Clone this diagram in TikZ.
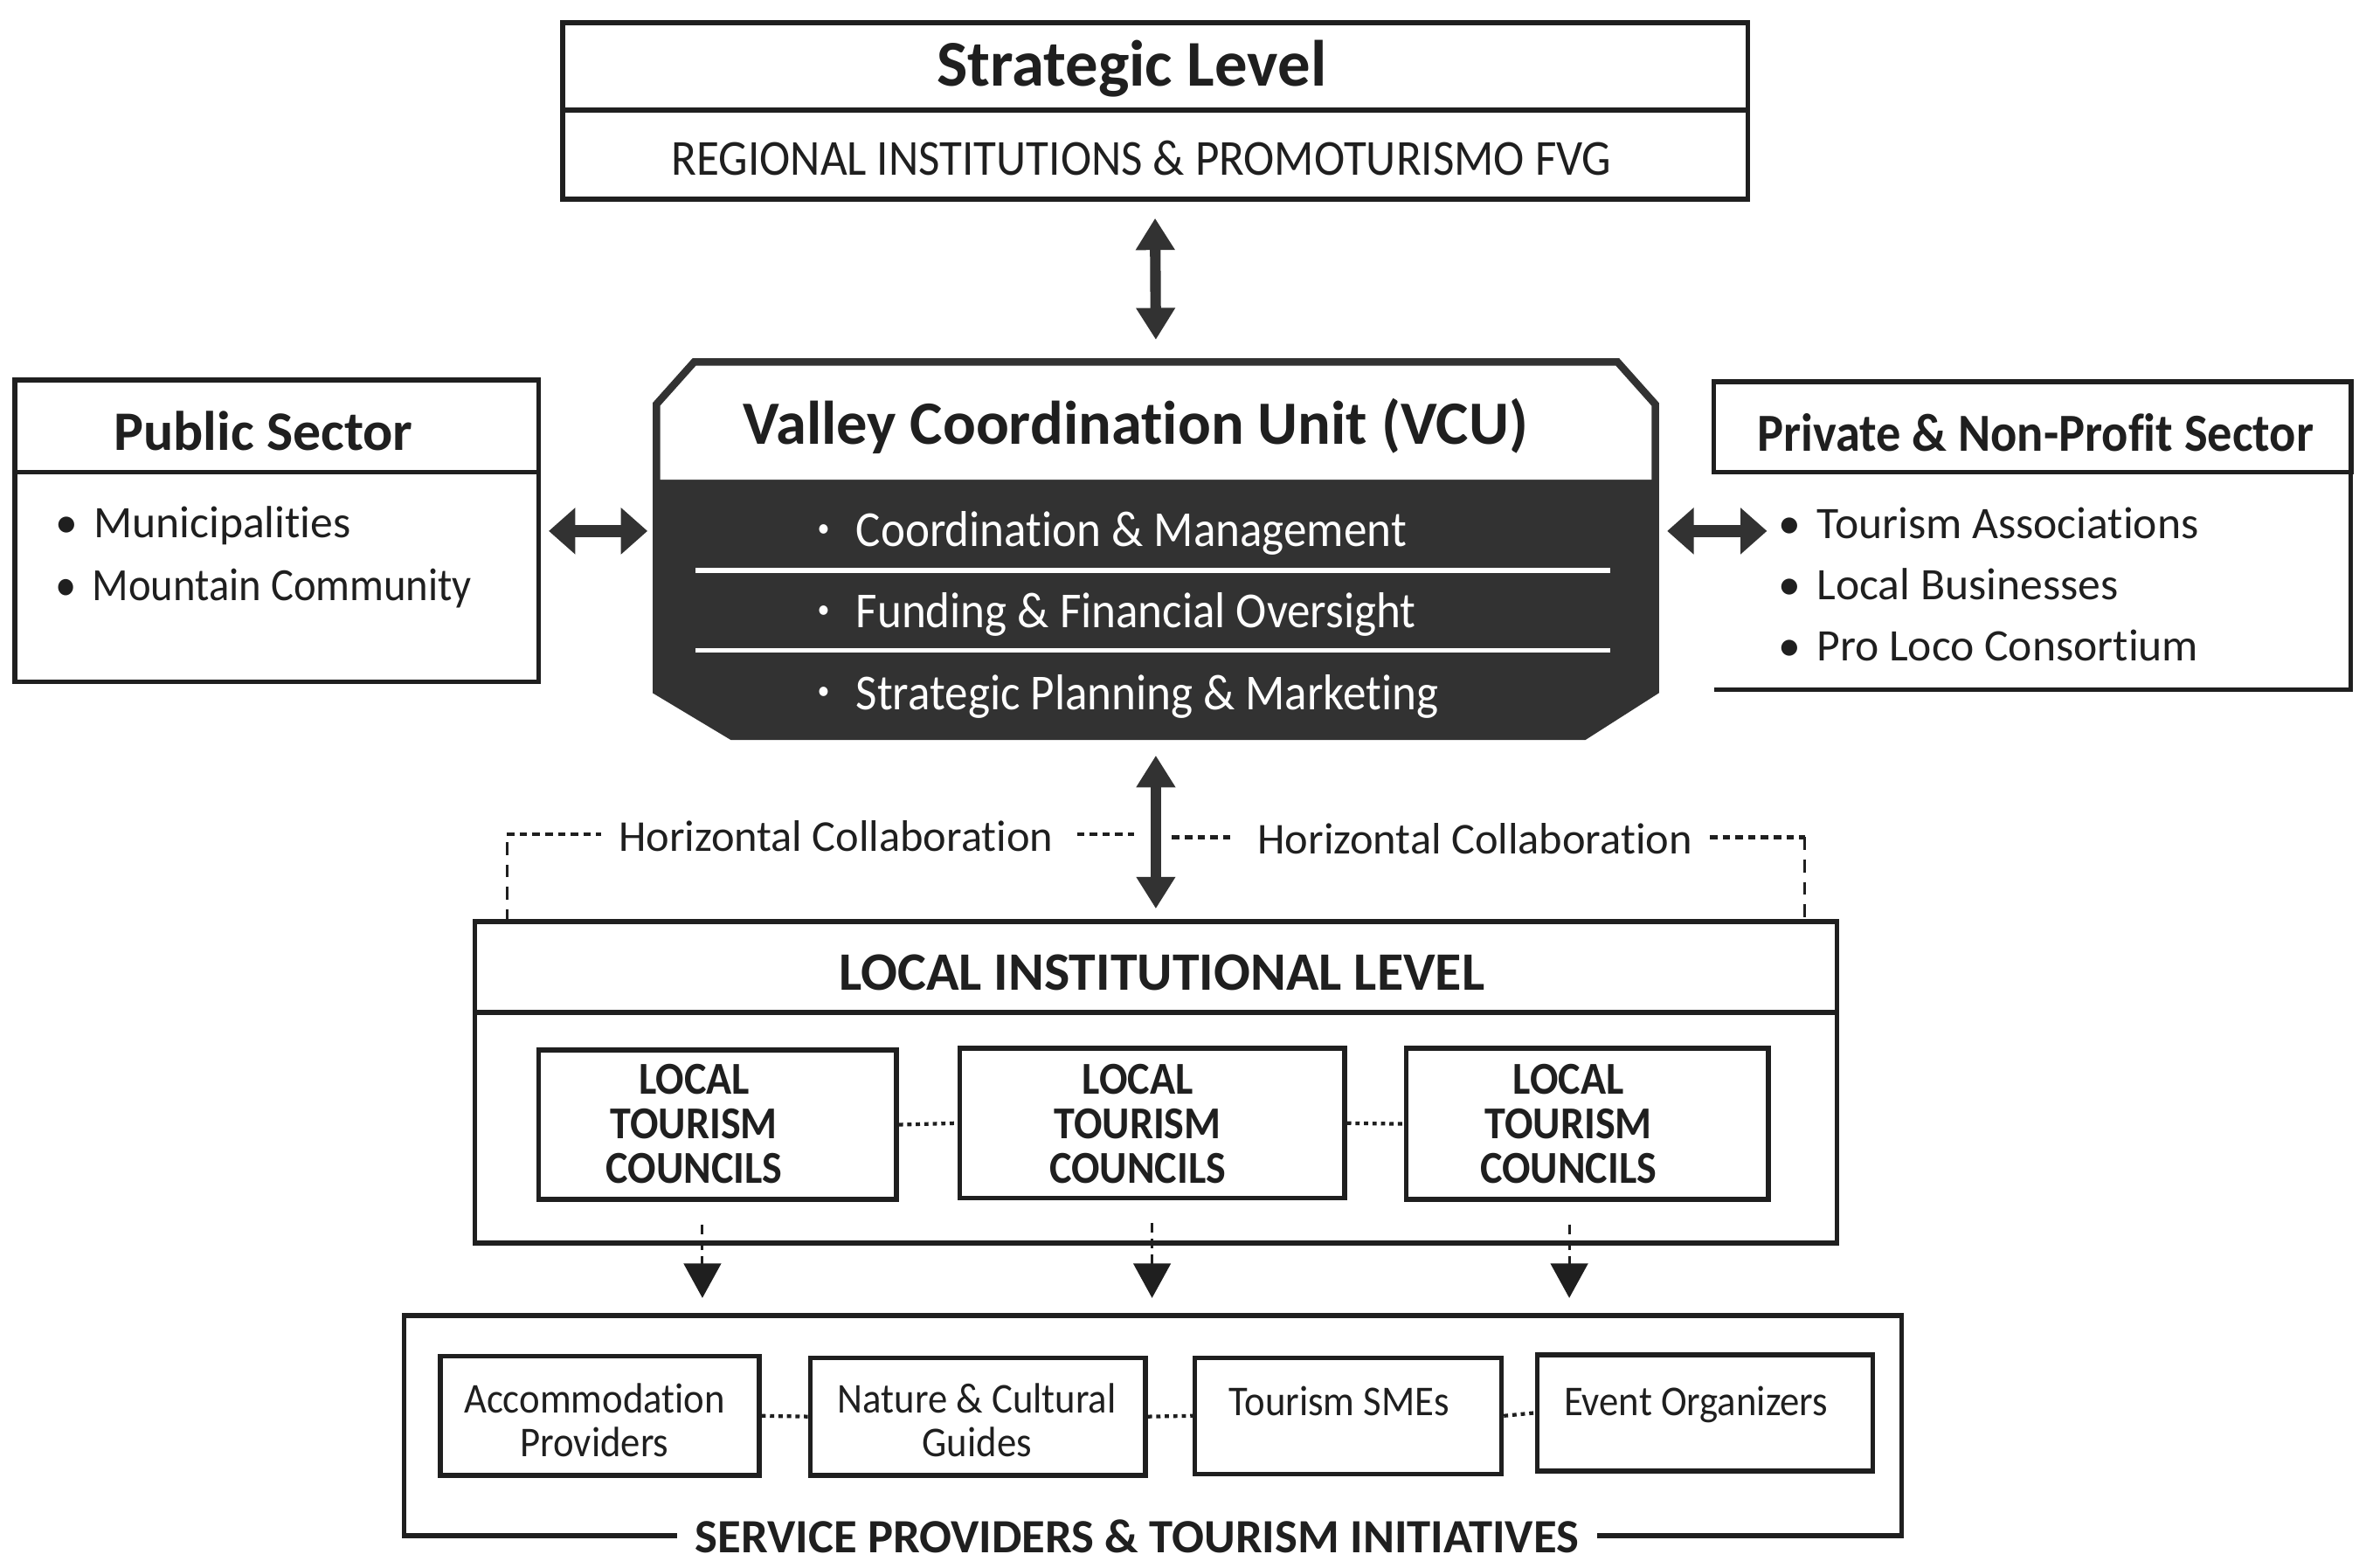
\documentclass[tikz,border=0pt]{standalone}
\usepackage{fontspec}
\setmainfont{Carlito}[Ligatures=NoCommon]
\newfontfamily\narrowfont{Carlito}[FakeStretch=0.92, Ligatures=NoCommon]
\usetikzlibrary{arrows.meta}
\definecolor{ink}{HTML}{1F1F1F}
\definecolor{vcudark}{HTML}{323232}
\tikzset{
  box/.style={draw=ink, line width=0.9pt, inner sep=0pt},
  lbl/.style={inner sep=0pt, text=ink, text height=0.64em, text depth=0pt},
  bigtitle/.style={lbl, font=\fontsize{12.3}{14}\selectfont\bfseries},
  sectitle/.style={lbl, font=\fontsize{10.5}{12}\selectfont\bfseries},
  captext/.style={lbl, font=\narrowfont\fontsize{9.5}{11}\selectfont},
  bodytext/.style={lbl, font=\fontsize{8.5}{10}\selectfont},
  itemtext/.style={bodytext, anchor=west},
  vcuitem/.style={lbl, text=white, font=\narrowfont\fontsize{9.5}{11}\selectfont, anchor=west},
  counciltext/.style={inner sep=0pt, align=center, text=ink, font=\narrowfont\fontsize{8.6}{8.4}\selectfont\bfseries},
  provtext/.style={inner sep=0pt, align=center, text=ink, font=\narrowfont\fontsize{8}{8.3}\selectfont},
  vlink/.style={draw=vcudark, line width=2pt, {Triangle[width=7pt,length=6pt]}-{Triangle[width=7pt,length=6pt]}},
  hlink/.style={draw=vcudark, line width=2.4pt, {Triangle[width=8.5pt,length=5pt]}-{Triangle[width=8.5pt,length=5pt]}},
  flowdown/.style={draw=ink, line width=0.5pt, dash pattern=on 1.8pt off 1.2pt, -{Triangle[width=7pt,length=6.5pt]}},
  peer/.style={draw=ink, line width=0.7pt, dash pattern=on 0.8pt off 0.8pt},
  collab/.style={draw=ink, line width=0.7pt, dash pattern=on 1.4pt off 1pt},
  collabside/.style={draw=ink, line width=0.5pt, dash pattern=on 2.4pt off 1.8pt},
}
\begin{document}
\begin{tikzpicture}[x=0.01cm, y=-0.01cm]
\useasboundingbox[fill=white] (0,0) rectangle (1568,1039.3);

% strategic level
\node[box, minimum width=7.85cm, minimum height=1.17cm] (strat) at (765.5,73.5) {};
\draw[ink, line width=0.9pt] (373,73) -- (1158,73);
\node[bigtitle] (stratT) at (750,46) {Strategic Level};
\node[captext] (stratS) at (756.5,105) {REGIONAL INSTITUTIONS \& PROMOTURISMO FVG};

% valley coordination unit
\fill[vcudark] (460,240) -- (1072,240) -- (1097,268) -- (1097,458) -- (1050,488)
  -- (485,488) -- (435,458) -- (435,268) -- cycle;
\fill[white] (460,240) -- (1072,240) -- (1097,268) -- (1097,318) -- (435,318)
  -- (435,268) -- cycle;
\draw[vcudark, line width=1.4pt] (460,240) -- (1072,240) -- (1097,268) -- (1097,458)
  -- (1050,488) -- (485,488) -- (435,458) -- (435,268) -- cycle;
\node[minimum width=6.62cm, minimum height=2.48cm, inner sep=0pt] (vcu) at (766,364) {};
\node[bigtitle, font=\fontsize{11.6}{14}\selectfont\bfseries] (vcuT) at (752.5,283) {Valley Coordination Unit (VCU)};
\draw[white, line width=0.9pt] (461,378) -- (1067,378);
\draw[white, line width=0.9pt] (461,431) -- (1067,431);
\node[vcuitem] (vcu1) at (541,351) {\raisebox{0.2em}{\fontsize{5}{5}\selectfont\textbullet}\hspace{5pt}Coordination \& Management};
\node[vcuitem] (vcu2) at (541,405) {\raisebox{0.2em}{\fontsize{5}{5}\selectfont\textbullet}\hspace{5pt}Funding \& Financial Oversight};
\node[vcuitem] (vcu3) at (541,459) {\raisebox{0.2em}{\fontsize{5}{5}\selectfont\textbullet}\hspace{5pt}Strategic Planning \& Marketing};

% public sector
\node[box, minimum width=3.47cm, minimum height=2.00cm] (pub) at (183.5,352) {};
\draw[ink, line width=0.9pt] (10,313) -- (357,313);
\node[sectitle] (pubT) at (174.5,287) {Public Sector};
\node[itemtext] (pub1) at (36,345) {\textbullet\hspace{3pt}Municipalities};
\node[itemtext, font=\narrowfont\fontsize{8.7}{10}\selectfont] (pub2) at (36,387) {\textbullet\hspace{3pt}Mountain Community};

% private and non-profit sector
\node[box, minimum width=4.22cm, minimum height=0.60cm] (priv) at (1347,283) {};
\draw[ink, line width=0.9pt] (1558,313) -- (1558,457) -- (1136,457);
\node[sectitle, font=\narrowfont\fontsize{10.1}{12}\selectfont\bfseries] (privT) at (1349,288) {Private \& Non-Profit Sector};
\node[itemtext] (priv1) at (1178,346) {\textbullet\hspace{3pt}Tourism Associations};
\node[itemtext] (priv2) at (1178,386) {\textbullet\hspace{3pt}Local Businesses};
\node[itemtext] (priv3) at (1178,427) {\textbullet\hspace{3pt}Pro Loco Consortium};
\coordinate (privin) at (1171,352);

% local institutional level
\node[box, minimum width=9.02cm, minimum height=2.13cm] (local) at (766,717.5) {};
\draw[ink, line width=0.9pt] (315,671) -- (1217,671);
\node[sectitle, font=\fontsize{10.2}{12}\selectfont\bfseries] (localT) at (770,645) {LOCAL INSTITUTIONAL LEVEL};
\node[box, minimum width=2.37cm, minimum height=0.99cm] (ltc1) at (475.5,745.5) {};
\node[box, minimum width=2.55cm, minimum height=0.99cm] (ltc2) at (763.5,744.5) {};
\node[box, minimum width=2.40cm, minimum height=1.00cm] (ltc3) at (1052,745) {};
\node[counciltext] (ltc1T) at (460,745) {LOCAL\\TOURISM\\COUNCILS};
\node[counciltext] (ltc2T) at (754,745) {LOCAL\\TOURISM\\COUNCILS};
\node[counciltext] (ltc3T) at (1039.5,745) {LOCAL\\TOURISM\\COUNCILS};
\draw[peer] (ltc1.east) -- (ltc2.west);
\draw[peer] (ltc2.east) -- (ltc3.west);

% horizontal collaboration
\node[bodytext, font=\fontsize{8.3}{10}\selectfont] (hc1) at (554,553) {Horizontal Collaboration};
\node[bodytext, font=\fontsize{8.3}{10}\selectfont] (hc2) at (977.5,555) {Horizontal Collaboration};
\coordinate (cl) at (336,611);
\coordinate (cr) at (1196,611);
\draw[collabside] (cl) -- (cl |- hc1.west);
\draw[collab] (cl |- hc1.west) -- ([xshift=-0.11cm]hc1.west);
\draw[collab] ([xshift=0.15cm]hc1.east) -- ([xshift=0.53cm]hc1.east);
\draw[collab] ([xshift=-0.56cm]hc2.west) -- ([xshift=-0.14cm]hc2.west);
\draw[collab] ([xshift=0.11cm]hc2.east) -- (cr |- hc2.east);
\draw[collabside] (cr |- hc2.east) -- (cr);

% service providers
\node[box, minimum width=9.92cm, minimum height=1.46cm] (svc) at (764,945) {};
\node[sectitle, font=\fontsize{9}{10}\selectfont\bfseries, fill=white, inner xsep=0.12cm] (svcT) at (753.5,1018) {SERVICE PROVIDERS \& TOURISM INITIATIVES};
\node[box, minimum width=2.11cm, minimum height=0.79cm] (acc) at (397.5,938.5) {};
\node[box, minimum width=2.22cm, minimum height=0.78cm] (guide) at (648,939) {};
\node[box, minimum width=2.03cm, minimum height=0.77cm] (sme) at (893.5,938.5) {};
\node[box, minimum width=2.22cm, minimum height=0.77cm] (event) at (1130,936.5) {};
\node[provtext] (accT) at (394,941.5) {Accommodation\\Providers};
\node[provtext] (guideT) at (647.5,941.5) {Nature \& Cultural\\Guides};
\node[provtext, text height=0.64em, text depth=0pt] (smeT) at (887.5,927) {Tourism SMEs};
\node[provtext, text height=0.64em, text depth=0pt] (eventT) at (1124,927) {Event Organizers};
\draw[peer] (acc.east) -- (guide.west);
\draw[peer] (guide.east) -- (sme.west);
\draw[peer] (sme.east) -- (event.west);

% connectors
\draw[vlink] ([yshift=-0.11cm]strat.south) -- ([yshift=0.14cm]vcu.north);
\draw[vlink] ([yshift=-0.12cm]vcu.south) -- ([yshift=0.07cm]local.north);
\draw[hlink] ([xshift=0.05cm]pub.east) -- ([xshift=-0.05cm]pub.east -| vcu.west);
\draw[hlink] ([xshift=0.07cm]vcu.east |- pub.east) -- (privin);
\draw[flowdown] ([xshift=-0.1cm, yshift=-0.15cm]ltc1.south) -- ([xshift=-0.1cm, yshift=0.1cm]ltc1.south |- svc.north);
\draw[flowdown] ([yshift=-0.15cm]ltc2.south) -- ([yshift=0.1cm]ltc2.south |- svc.north);
\draw[flowdown] ([xshift=-0.12cm, yshift=-0.15cm]ltc3.south) -- ([xshift=-0.12cm, yshift=0.1cm]ltc3.south |- svc.north);
\end{tikzpicture}
\end{document}
